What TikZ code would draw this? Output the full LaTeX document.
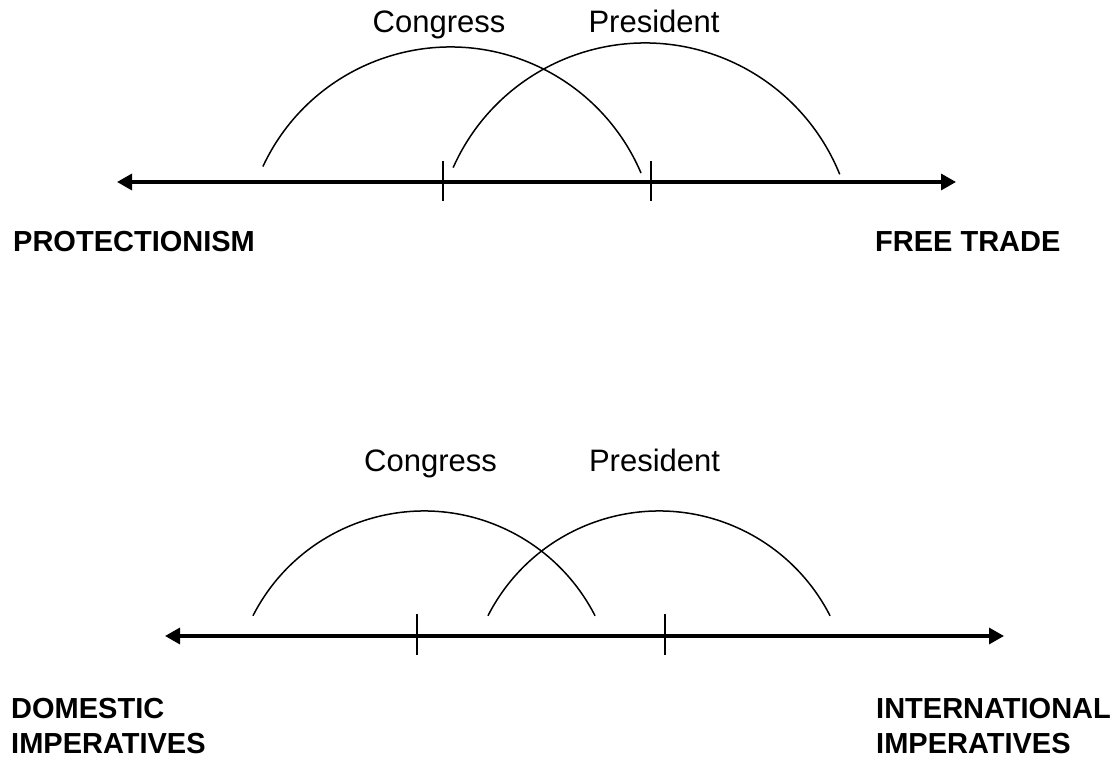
\documentclass[tikz,border=0pt]{standalone}
\usepackage{fontspec}
\setmainfont{Liberation Sans}
\usetikzlibrary{arrows.meta,positioning}

\tikzset{
  axisline/.style={line width=3.3pt,{Triangle[length=15pt,width=16pt]}-{Triangle[length=15pt,width=16pt]}},
  tickline/.style={line width=2pt},
  rangearc/.style={line width=1.5pt},
  branchlabel/.style={font=\fontsize{31}{37}\selectfont, anchor=base, inner sep=0pt},
  polelabel/.style={font=\fontsize{29}{35}\selectfont\bfseries, anchor=base west, inner sep=0pt, align=left},
}

\begin{document}
\begin{tikzpicture}[x=1pt,y=1pt]
\useasboundingbox (0,0) rectangle (1115,765);

%Trade axis
\coordinate (tradeL) at (117,583);
\coordinate (tradeR) at (956,583);
\draw[axisline] (tradeL) -- (tradeR);
\draw[tickline] (443,564) -- (443,604);
\draw[tickline] (651,564) -- (651,604);

%Congress range, trade
\draw[rangearc] ([shift={(155:207)}]450.5,511) arc[start angle=155, end angle=23, radius=207];
\node[branchlabel] (congressT) at (439,732) {Congress};

%President range, trade
\draw[rangearc] ([shift={(156:210)}]645,512) arc[start angle=156, end angle=22, radius=210];
\node[branchlabel] (presidentT) at (654,732) {President};

\node[polelabel] (protect) at (13,513) {PROTECTIONISM};
\node[polelabel] (freetrade) at (875,513) {FREE TRADE};

%Imperatives axis
\coordinate (impL) at (165,129);
\coordinate (impR) at (1004,129);
\draw[axisline] (impL) -- (impR);
\draw[tickline] (417,110) -- (417,151);
\draw[tickline] (665,110) -- (665,151);

%Congress range, imperatives
\draw[rangearc] ([shift={(153:192)}]424,62) arc[start angle=153, end angle=27, radius=192];
\node[branchlabel] (congressB) at (430.5,293) {Congress};

%President range, imperatives
\draw[rangearc] ([shift={(153:192)}]659,62) arc[start angle=153, end angle=27, radius=192];
\node[branchlabel] (presidentB) at (654.5,293) {President};

\node[polelabel] (domestic) at (11,12) {DOMESTIC\\IMPERATIVES};
\node[polelabel] (intl) at (876,12) {INTERNATIONAL\\IMPERATIVES};
\end{tikzpicture}
\end{document}
